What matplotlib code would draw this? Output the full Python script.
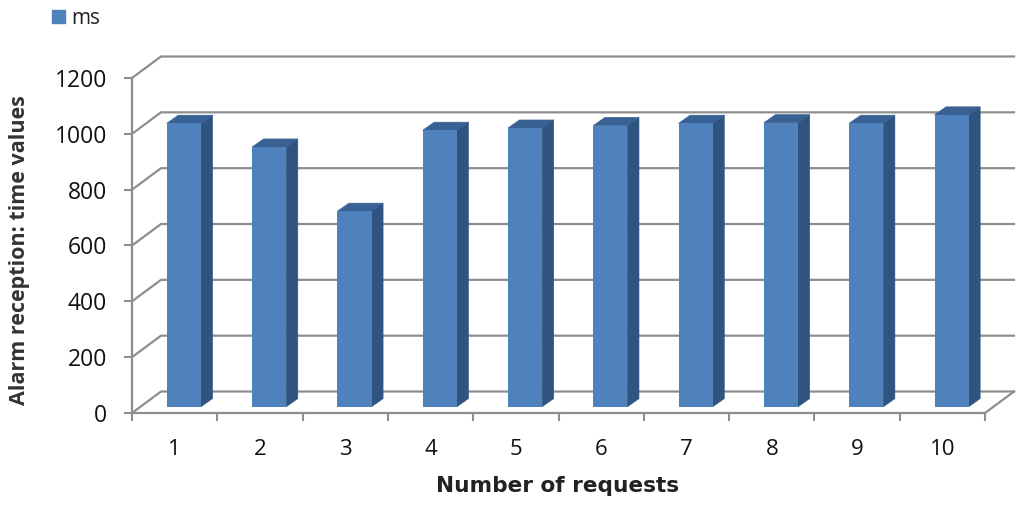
# 3D-look column chart drawn on a plain axes, depth is just an offset in data units
import matplotlib.pyplot as plt
from matplotlib.patches import Patch

requests = ["1", "2", "3", "4", "5", "6", "7", "8", "9", "10"]
ms_values = [1015, 930, 700, 990, 998, 1007, 1015, 1017, 1015, 1045]
y_ticks = [0, 200, 400, 600, 800, 1000, 1200]

# depth of the floor and of the bars, in data units
wall_dx, wall_dy = 0.34, 77
bar_off_x, bar_off_y = 0.108, 22.6
bar_dx, bar_dy = 0.135, 29
bar_width = 0.40

grid_color = "#8e8e8e"
front_color = "#4f81bd"
side_color = "#2f5480"
top_color = "#3a6194"

fig = plt.figure(figsize=(10.24, 5.07), dpi=100)
ax = fig.add_axes([132 / 1024, (507 - 413) / 507, 853 / 1024, 335 / 507])
ax.set_xlim(0, 10)
ax.set_ylim(0, 1200)

# back wall and floor lines
for v in y_ticks:
    ax.plot([0, wall_dx, 10 + wall_dx],
            [v, v + wall_dy, v + wall_dy],
            color=grid_color, lw=1.6, clip_on=False, zorder=1)
ax.plot([10, 10 + wall_dx], [0, wall_dy], color=grid_color, lw=1.6, clip_on=False, zorder=1)

# bars: front face, then side and top as polygons
for i, value in enumerate(ms_values):
    left = i + 0.5 - bar_width / 2 + bar_off_x
    right = left + bar_width
    bottom = bar_off_y
    top = bottom + value
    ax.fill([right, right + bar_dx, right + bar_dx, right],
            [bottom, bottom + bar_dy, top + bar_dy, top],
            facecolor=side_color, edgecolor=side_color, lw=0.5, zorder=3, clip_on=False)
    ax.fill([left, left + bar_dx, right + bar_dx, right],
            [top, top + bar_dy, top + bar_dy, top],
            facecolor=top_color, edgecolor=top_color, lw=0.5, zorder=3, clip_on=False)
    ax.bar(left + bar_width / 2, value, width=bar_width, bottom=bottom,
           color=front_color, zorder=4, clip_on=False)

for side in ["top", "right"]:
    ax.spines[side].set_visible(False)
for side in ["left", "bottom"]:
    ax.spines[side].set_color(grid_color)
    ax.spines[side].set_linewidth(1.6)

ax.set_xticks(range(11))
ax.set_xticklabels([])
ax.set_xticks([i + 0.5 for i in range(10)], labels=requests, minor=True)
ax.set_yticks(y_ticks)
ax.tick_params(axis="x", which="major", length=6, width=1.5, color=grid_color)
ax.tick_params(axis="x", which="minor", length=0, pad=19, labelsize=16, labelcolor="#111111")
ax.tick_params(axis="y", length=6, width=1.5, color=grid_color, pad=12,
               labelsize=16.5, labelcolor="#111111")
for lab in ax.get_xticklabels(minor=True) + ax.get_yticklabels():
    lab.set_fontfamily("Open Sans")

fig.text(558 / 1024, 1 - 486 / 507, "Number of requests", ha="center", va="center",
         family="DejaVu Sans", weight="bold", fontsize=15.6, color="#222222")
fig.text(20 / 1024, 1 - 250 / 507, "Alarm reception: time values", ha="center", va="center",
         rotation=90, family="Open Sans", weight="bold", fontsize=15.5, color="#333333")

ax.legend(handles=[Patch(color=front_color, label="ms")], loc="upper left",
          bbox_to_anchor=(52 / 1024, 1 - 8 / 507), bbox_transform=fig.transFigure,
          frameon=False, handlelength=0.6, handleheight=0.6, handletextpad=0.33,
          prop={"family": "Open Sans", "size": 15}, labelcolor="#222222",
          borderpad=0, borderaxespad=0)

fig.savefig("out.png", dpi=100)
